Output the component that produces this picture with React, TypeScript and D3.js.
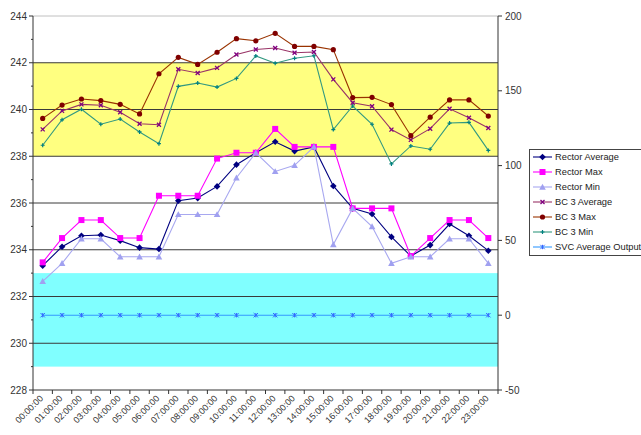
import React from "react";
import * as d3 from "d3";

const hours = ["00:00:00","01:00:00","02:00:00","03:00:00","04:00:00","05:00:00","06:00:00","07:00:00","08:00:00","09:00:00","10:00:00","11:00:00","12:00:00","13:00:00","14:00:00","15:00:00","16:00:00","17:00:00","18:00:00","19:00:00","20:00:00","21:00:00","22:00:00","23:00:00"];

const rectorAverage = [233.32,234.13,234.6,234.63,234.39,234.09,234.03,236.1,236.21,236.71,237.64,238.15,238.62,238.22,238.4,236.73,235.77,235.53,234.55,233.73,234.2,235.1,234.6,233.96];
const rectorMax = [233.46,234.5,235.27,235.27,234.5,234.5,236.31,236.31,236.31,237.9,238.15,238.15,239.17,238.4,238.4,238.4,235.77,235.77,235.77,233.73,234.5,235.27,235.27,234.5];
const rectorMin = [232.65,233.42,234.47,234.47,233.7,233.7,233.7,235.51,235.51,235.51,237.08,238.15,237.35,237.61,238.4,234.22,235.77,234.99,233.42,233.7,233.7,234.47,234.47,233.42];
const bc3Average = [239.15,239.94,240.22,240.18,239.88,239.39,239.35,241.72,241.56,241.78,242.35,242.57,242.63,242.43,242.46,241.29,240.29,240.14,239.14,238.7,239.18,240.03,239.65,239.21];
const bc3Max = [239.62,240.19,240.45,240.38,240.22,239.81,241.53,242.23,241.93,242.45,243.03,242.94,243.26,242.7,242.7,242.56,240.51,240.52,240.21,238.88,239.67,240.41,240.41,239.72];
const bc3Min = [238.47,239.56,240.01,239.37,239.59,239.04,238.54,240.99,241.13,240.96,241.33,242.29,241.98,242.19,242.3,239.14,240.15,239.37,237.67,238.44,238.3,239.42,239.45,238.25];
const svcAverageOutput = [0,0,0,0,0,0,0,0,0,0,0,0,0,0,0,0,0,0,0,0,0,0,0,0];

const leftTicks = [228,230,232,234,236,238,240,242,244];
const rightTicks = [-50,0,50,100,150,200];
const yellowBand = [238, 242];
const cyanBand = [229, 233];

type Marker = "diamond" | "square" | "triangle" | "x" | "circle" | "plus" | "star";
interface Series { name: string; values: number[]; line: string; fill: string; marker: Marker; size: number; axis: "L" | "R"; }

const series: Series[] = [
  { name: "Rector Average", values: rectorAverage, line: "#000080", fill: "#000080", marker: "diamond", size: 3.3, axis: "L" },
  { name: "Rector Max", values: rectorMax, line: "#FF00FF", fill: "#FF00FF", marker: "square", size: 3, axis: "L" },
  { name: "Rector Min", values: rectorMin, line: "#A8A8F0", fill: "#A0A0F0", marker: "triangle", size: 3.3, axis: "L" },
  { name: "BC 3 Average", values: bc3Average, line: "#993366", fill: "#800080", marker: "x", size: 2, axis: "L" },
  { name: "BC 3 Max", values: bc3Max, line: "#993300", fill: "#800000", marker: "circle", size: 2.6, axis: "L" },
  { name: "BC 3 Min", values: bc3Min, line: "#339980", fill: "#008080", marker: "plus", size: 2, axis: "L" },
  { name: "SVC Average Output", values: svcAverageOutput, line: "#3399FF", fill: "#3366FF", marker: "star", size: 2.2, axis: "R" },
];

const W = 641, H = 435;
const x0 = 33, x1 = 498, yTop = 16, yBot = 390;

function MarkerShape({ m, cx, cy, s, fill }: { m: Marker; cx: number; cy: number; s: number; fill: string }) {
  switch (m) {
    case "diamond":
      return <path d={`M${cx},${cy - s}L${cx + s},${cy}L${cx},${cy + s}L${cx - s},${cy}Z`} fill={fill} />;
    case "square":
      return <rect x={cx - s} y={cy - s} width={2 * s} height={2 * s} fill={fill} />;
    case "triangle":
      return <path d={`M${cx},${cy - s}L${cx + s},${cy + s * 0.8}L${cx - s},${cy + s * 0.8}Z`} fill={fill} />;
    case "circle":
      return <circle cx={cx} cy={cy} r={s} fill={fill} />;
    case "x":
      return <path d={`M${cx - s},${cy - s}L${cx + s},${cy + s}M${cx - s},${cy + s}L${cx + s},${cy - s}`} stroke={fill} strokeWidth={1.3} />;
    case "plus":
      return <path d={`M${cx - s},${cy}L${cx + s},${cy}M${cx},${cy - s}L${cx},${cy + s}`} stroke={fill} strokeWidth={1.2} />;
    case "star":
      return <path d={`M${cx - s},${cy - s}L${cx + s},${cy + s}M${cx - s},${cy + s}L${cx + s},${cy - s}M${cx},${cy - s}L${cx},${cy + s}`} stroke={fill} strokeWidth={1} />;
  }
  return null;
}

export default function App() {
  const x = d3.scaleBand<string>().domain(hours).range([x0, x1]).padding(0);
  const yL = d3.scaleLinear().domain([228, 244]).range([yBot, yTop]);
  const yR = d3.scaleLinear().domain([-50, 200]).range([yBot, yTop]);
  const cx = (h: string) => (x(h) as number) + x.bandwidth() / 2;
  const minorTicks = d3.range(229, 244, 2);
  const font = "Arial, 'Liberation Sans', sans-serif";
  const legendY0 = 157, legendDy = 15;

  return (
    <svg width={W} height={H} style={{ position: "absolute", left: 0, top: 0, background: "#fff" }} fontFamily={font}>
      {/* bands */}
      <rect x={x0} y={yL(yellowBand[1])} width={x1 - x0} height={yL(yellowBand[0]) - yL(yellowBand[1])} fill="#FFFF80" />
      <rect x={x0} y={yL(cyanBand[1])} width={x1 - x0} height={yL(cyanBand[0]) - yL(cyanBand[1])} fill="#80FFFF" />
      {/* gridlines */}
      {leftTicks.filter(t => t > 228 && t < 244).map(t => (
        <line key={t} x1={x0} x2={x1} y1={yL(t)} y2={yL(t)} stroke="#3a3a3a" strokeWidth={1} />
      ))}
      <line x1={x0} x2={x1} y1={yTop} y2={yTop} stroke="#c0c0c0" />
      {/* series */}
      {series.map(s => {
        const y = s.axis === "L" ? yL : yR;
        const line = d3.line<number>().x((_, i) => cx(hours[i])).y(v => y(v));
        return (
          <g key={s.name}>
            <path d={line(s.values) || ""} fill="none" stroke={s.line} strokeWidth={1.1} />
            {s.values.map((v, i) => (
              <MarkerShape key={i} m={s.marker} cx={cx(hours[i])} cy={y(v)} s={s.size} fill={s.fill} />
            ))}
          </g>
        );
      })}
      {/* left axis */}
      <line x1={x0} x2={x0} y1={yTop} y2={yBot} stroke="#333" />
      {leftTicks.map(t => (
        <g key={t}>
          <line x1={x0 - 4} x2={x0} y1={yL(t)} y2={yL(t)} stroke="#333" />
          <text x={x0 - 6} y={yL(t)} dy="0.35em" textAnchor="end" fontSize={10} fill="#333">{t}</text>
        </g>
      ))}
      {minorTicks.map(t => (
        <line key={t} x1={x0 - 2} x2={x0} y1={yL(t)} y2={yL(t)} stroke="#333" />
      ))}
      {/* right axis */}
      <line x1={x1} x2={x1} y1={yTop} y2={yBot} stroke="#333" />
      {rightTicks.map(t => (
        <g key={t}>
          <line x1={x1} x2={x1 + 4} y1={yR(t)} y2={yR(t)} stroke="#333" />
          <text x={x1 + 7} y={yR(t)} dy="0.35em" textAnchor="start" fontSize={10} fill="#333">{t}</text>
        </g>
      ))}
      {/* bottom axis */}
      <line x1={x0} x2={x1} y1={yBot} y2={yBot} stroke="#333" />
      {hours.map(h => (
        <line key={"t" + h} x1={x(h) as number} x2={x(h) as number} y1={yBot} y2={yBot + 4} stroke="#333" />
      ))}
      <line x1={x1} x2={x1} y1={yBot} y2={yBot + 4} stroke="#333" />
      {hours.map(h => (
        <text key={h} transform={`translate(${cx(h) + 1},${yBot + 9}) rotate(-45)`} textAnchor="end" fontSize={9} fill="#333">{h}</text>
      ))}
      {/* legend */}
      <rect x={529.5} y={149.5} width={120} height={106} fill="#fff" stroke="#444" />
      {series.map((s, i) => {
        const ly = legendY0 + i * legendDy;
        return (
          <g key={"lg" + s.name}>
            <line x1={533} x2={552} y1={ly} y2={ly} stroke={s.line} strokeWidth={1.1} />
            <MarkerShape m={s.marker} cx={542.5} cy={ly} s={s.size} fill={s.fill} />
            <text x={555} y={ly} dy="0.35em" fontSize={9.3} fill="#222">{s.name}</text>
          </g>
        );
      })}
    </svg>
  );
}
